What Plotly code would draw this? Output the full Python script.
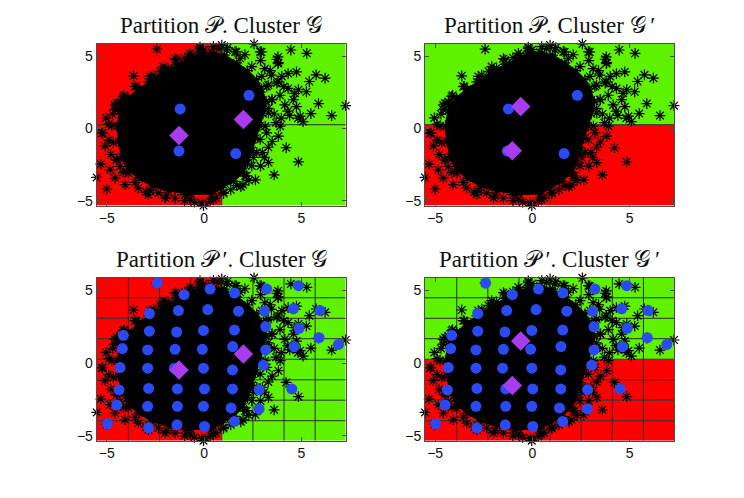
import plotly.graph_objects as go

# ---------------- data ----------------
X_RANGE = [-5.52, 7.28]
Y_RANGE = [-5.33, 5.86]
TICKS = [-5, 0, 5]

# solid core of the sample cloud (outline)
cloud_x = [-4.31, -4.47, -4.38, -4.22, -3.91, -3.35, -2.63, -1.83, -0.72, 0.40, 0.88, 1.51, 1.99,
           2.23, 2.47, 2.63, 2.87, 3.03, 3.19, 2.95, 2.70, 2.23, 1.67, 1.04, 0.40, -0.24, -0.72,
           -1.36, -1.99, -2.63, -3.35, -3.91, -4.22, -4.31]
cloud_y = [1.23, 0.17, -0.90, -1.96, -2.82, -3.45, -3.98, -4.30, -4.52, -4.52, -4.09, -3.66, -3.02,
           -2.39, -1.53, -0.69, 0.17, 1.02, 1.87, 2.73, 3.37, 4.00, 4.54, 5.07, 5.28, 5.17, 4.86,
           4.43, 4.00, 3.37, 2.73, 2.09, 1.66, 1.23]

# fuzzy edge of the cloud (stars)
edge_x = [-4.58, -4.75, -4.66, -4.49, -4.15, -3.55, -2.78, -1.92, -0.72, 0.48, 1.00, 1.68, 2.19,
          2.45, 2.71, 2.88, 3.14, 3.31, 3.48, 3.22, 2.96, 2.45, 1.85, 1.17, 0.48, -0.21, -0.72,
          -1.41, -2.09, -2.78, -3.55, -4.15, -4.49]
edge_y = [1.30, 0.16, -0.99, -2.13, -3.05, -3.73, -4.30, -4.65, -4.88, -4.88, -4.42, -3.96, -3.27,
          -2.59, -1.67, -0.76, 0.16, 1.07, 1.99, 2.91, 3.60, 4.28, 4.86, 5.43, 5.66, 5.54, 5.20,
          4.74, 4.28, 3.60, 2.91, 2.22, 1.76]

# scattered sample points (stars) around the core
star_x = [-2.43, -3.63, -5.04, -5.21, -5.09, -5.31, -5.00, -0.03, -5.52,
          2.57, 0.91, 1.59, 2.88, 3.74, 3.82, 4.46, 5.28, 5.76, 6.22, 5.41, 4.85, 3.74, 4.59, 5.88,
          4.94, 5.49, 6.56, 7.28, 3.91, 3.22, 3.82, 4.22, 4.85, 3.31, 3.60, 2.54, 3.00, 1.89, 2.64, 1.37,
          -4.58, -4.32, -3.89, -3.20, -2.86, -2.26, -1.84, -1.49, -0.63, -0.21, -0.12, -1.32, -0.89, 0.31, 0.74,
          -5.26, -4.83, -4.58, -4.06, -3.38, -2.86, -2.35, -1.49, -0.98, -0.12, 0.31, -4.32, -3.89,
          1.66, 2.95, 3.80, 3.80, 4.32, 4.75, 4.66, 4.32, 3.80, 3.46, 4.83, 4.15, 3.97, 3.29, 2.78,
          3.12, 4.75, 5.09, 5.26,
          3.5, 3.9, 4.1, 3.6, 4.3, 3.4, 2.9, 3.3, 4.0, 4.4, 3.7, 3.5, 3.3, 2.9, 3.1, 2.3, 2.0, 2.1,
          -2.6, -3.5, -4.1, -1.0, 0.0, 1.2, 2.1,
          -4.9, -4.9, -4.8, -4.7, -4.5,
          -3.0, -2.0, -1.0, 0.6, 1.0, -0.5]
star_y = [5.49, 3.64, 0.73, -0.30, -1.21, -2.47, -4.19, -5.33, -3.39,
          5.85, 5.77, 5.31, 5.31, 4.79, 4.55, 5.43, 5.20, 3.71, 3.48, 3.25, 2.68, 3.14, 1.99, 1.72,
          0.85, 1.03, 0.89, 1.58, 0.16, -0.30, -0.53, -1.33, -2.31, -2.36, -3.21, -2.01, -1.67, -4.03, -3.55, -4.24,
          1.63, 1.85, 2.08, 2.54, 3.23, 3.96, 4.19, 4.83, 5.06, 5.63, 5.29, 4.26, 4.37, 5.06, 5.52,
          -0.34, -2.86, -3.43, -3.89, -4.12, -4.58, -4.46, -4.81, -4.58, -5.15, -5.04, -2.63, -3.09,
          5.29, 5.29, 4.95, 4.49, 3.80, 3.91, 2.43, 2.77, 3.23, 3.69, 0.71, 1.63, 0.71, 1.39, 2.54,
          4.14, 1.51, 0.48, 2.54,
          2.0, 2.3, 2.9, 1.0, 1.2, 4.0, 4.7, 3.0, 3.6, 0.9, 0.4, -0.9, -1.3, -2.6, -2.0, -3.6, -3.9, -3.3,
          3.7, 2.9, 2.3, 4.9, 5.45, 5.6, 5.1,
          0.3, -0.8, -1.8, 1.0, -2.2,
          -4.4, -4.8, -5.0, -4.8, -4.5, -5.1]

# code vectors of partition P (4 cells)
P_circ_x = [-1.23, 2.31, -1.29, 1.63]
P_circ_y = [1.35, 2.29, -1.56, -1.74]

# code vectors of partition P' (grid)
Pp_circ_x = [-2.40, 4.85, -1.03, 0.31, 1.56, 3.22,
             -2.81, -1.32, 0.19, 1.77, 3.10, 4.59, 5.96,
             -4.15, -2.81, -1.41, -0.03, 1.56, 3.17, 4.88, 5.91,
             -4.20, -2.90, -1.49, -0.09, 1.47, 3.17, 4.63, 6.91,
             -4.32, -2.90, -1.53, -0.03, 1.46, 3.05,
             -4.37, -2.85, -1.37, 0.02, 1.46, 2.84, 4.51,
             -4.49, -2.90, -1.37, -0.03, 1.39, 2.83,
             -4.97, -2.85, -1.39, 0.02, 1.56]
Pp_circ_y = [5.49, 5.31, 4.69, 5.08, 4.81, 5.08,
             3.40, 3.60, 3.67, 3.56, 3.56, 3.72, 3.60,
             1.90, 2.19, 2.13, 2.24, 2.26, 2.49, 2.38, 1.74,
             0.99, 0.90, 0.94, 0.94, 1.13, 0.90, 1.13, 1.28,
             -0.31, -0.35, -0.35, -0.35, -0.47, -0.15,
             -1.85, -1.74, -1.78, -1.78, -1.78, -1.83, -1.78,
             -2.88, -2.97, -2.97, -2.97, -3.08, -3.15,
             -4.17, -4.45, -4.24, -4.35, -4.01]

# cluster centres
G_diam_x = [-1.29, 2.02]
G_diam_y = [-0.48, 0.62]
Gp_diam_x = [-0.60, -1.03]
Gp_diam_y = [1.52, -1.54]

# partitions (cell edges)
P_x_edges = [-5.52, 0.91, 7.28]
P_y_edges = [-5.33, 0.26, 5.86]
Pp_x_edges = [-5.52, -3.89, -2.29, -0.69, 0.91, 2.51, 4.11, 5.71, 7.28]
Pp_y_edges = [-5.33, -3.96, -2.55, -1.15, 0.26, 1.67, 3.07, 4.48, 5.86]

# cell labels: cluster G assigns by column, cluster G' by row
P_G_cols = ["r", "g"]
P_Gp_rows = ["r", "g"]
Pp_G_cols = ["r", "r", "r", "r", "g", "g", "g", "g"]
Pp_Gp_rows = ["r", "r", "r", "r", "g", "g", "g", "g"]

titles = ["Partition 𝒫. Cluster 𝒢",
          "Partition 𝒫. Cluster 𝒢\u2009′",
          "Partition 𝒫\u2009′. Cluster 𝒢",
          "Partition 𝒫\u2009′. Cluster 𝒢\u2009′"]

# ---------------- style ----------------
RED = "#ff0000"
GREEN = "#5ef200"
BLUE = "#2a4af5"
PURPLE = "#aa3cf0"
COLORS = {"r": RED, "g": GREEN}

W, H = 744, 498
OFF = 8  # page body margin of the browser
panels = [  # (x0px, x1px, y0px(top), y1px(bottom)) on screen
    (96.7, 345.7, 44.0, 206.7),
    (425.0, 674.0, 44.0, 206.7),
    (96.7, 345.7, 279.3, 443.3),
    (425.0, 674.0, 279.3, 443.3),
]

fig = go.Figure()
shapes = []
annotations = []

configs = [
    (P_x_edges, P_y_edges, "col", P_G_cols, P_circ_x, P_circ_y, G_diam_x, G_diam_y),
    (P_x_edges, P_y_edges, "row", P_Gp_rows, P_circ_x, P_circ_y, Gp_diam_x, Gp_diam_y),
    (Pp_x_edges, Pp_y_edges, "col", Pp_G_cols, Pp_circ_x, Pp_circ_y, G_diam_x, G_diam_y),
    (Pp_x_edges, Pp_y_edges, "row", Pp_Gp_rows, Pp_circ_x, Pp_circ_y, Gp_diam_x, Gp_diam_y),
]

star_marker = dict(symbol="asterisk-open", size=9, color="black",
                   line=dict(color="#111111", width=1.2))

for i, (cfg, pan) in enumerate(zip(configs, panels)):
    xe, ye, mode, labels, cx, cy, dx, dy = cfg
    n = "" if i == 0 else str(i + 1)
    xref, yref = "x" + n, "y" + n
    for a in range(len(xe) - 1):
        for b in range(len(ye) - 1):
            lab = labels[a] if mode == "col" else labels[b]
            shapes.append(dict(type="rect", xref=xref, yref=yref, layer="below",
                               x0=xe[a], x1=xe[a + 1], y0=ye[b], y1=ye[b + 1],
                               fillcolor=COLORS[lab], line=dict(width=0)))
    for v in xe[1:-1]:
        shapes.append(dict(type="line", xref=xref, yref=yref, layer="below",
                           x0=v, x1=v, y0=ye[0], y1=ye[-1], line=dict(color="#2a2a2a", width=1)))
    for v in ye[1:-1]:
        shapes.append(dict(type="line", xref=xref, yref=yref, layer="below",
                           x0=xe[0], x1=xe[-1], y0=v, y1=v, line=dict(color="#2a2a2a", width=1)))

    fig.add_trace(go.Scatter(x=cloud_x, y=cloud_y, mode="lines+markers", fill="toself",
                             fillcolor="black", line=dict(color="black", width=2),
                             marker=star_marker,
                             xaxis=xref, yaxis=yref, showlegend=False, hoverinfo="skip",
                             cliponaxis=False))
    fig.add_trace(go.Scatter(x=edge_x, y=edge_y, mode="markers", marker=star_marker,
                             xaxis=xref, yaxis=yref, showlegend=False, hoverinfo="skip",
                             cliponaxis=False))
    fig.add_trace(go.Scatter(x=star_x, y=star_y, mode="markers", marker=star_marker,
                             xaxis=xref, yaxis=yref, showlegend=False, hoverinfo="skip",
                             cliponaxis=False))
    fig.add_trace(go.Scatter(x=cx, y=cy, mode="markers",
                             marker=dict(symbol="circle", size=11, color=BLUE, line=dict(width=0)),
                             xaxis=xref, yaxis=yref, showlegend=False, cliponaxis=False))
    fig.add_trace(go.Scatter(x=dx, y=dy, mode="markers",
                             marker=dict(symbol="diamond", size=15, color=PURPLE, line=dict(width=0)),
                             xaxis=xref, yaxis=yref, showlegend=False, cliponaxis=False))

    x0, x1, yt, yb = [p - OFF for p in pan]
    dom_x = [x0 / W, x1 / W]
    dom_y = [1 - yb / H, 1 - yt / H]
    axis_common = dict(showgrid=False, zeroline=False, showline=True, linecolor="#4d4d4d",
                       linewidth=1, mirror="ticks", ticks="inside", ticklen=4, tickcolor="#4d4d4d",
                       tickfont=dict(family="Liberation Sans, Arial, sans-serif", size=14, color="#111"),
                       tickvals=TICKS, fixedrange=True)
    fig.layout["xaxis" + n] = dict(axis_common, domain=dom_x, range=X_RANGE, anchor=yref)
    fig.layout["yaxis" + n] = dict(axis_common, domain=dom_y, range=Y_RANGE, anchor=xref)
    annotations.append(dict(text=titles[i], xref="paper", yref="paper",
                            x=(x0 + x1) / 2 / W, y=1 - (yt - 4) / H, xanchor="center",
                            yanchor="bottom", showarrow=False,
                            font=dict(family="Liberation Serif, Times New Roman, serif",
                                      size=23, color="#111")))

fig.update_layout(width=W, height=H, margin=dict(l=0, r=0, t=0, b=0),
                  paper_bgcolor="white", plot_bgcolor="white",
                  shapes=shapes, annotations=annotations, showlegend=False)

fig.write_html("out.html")
